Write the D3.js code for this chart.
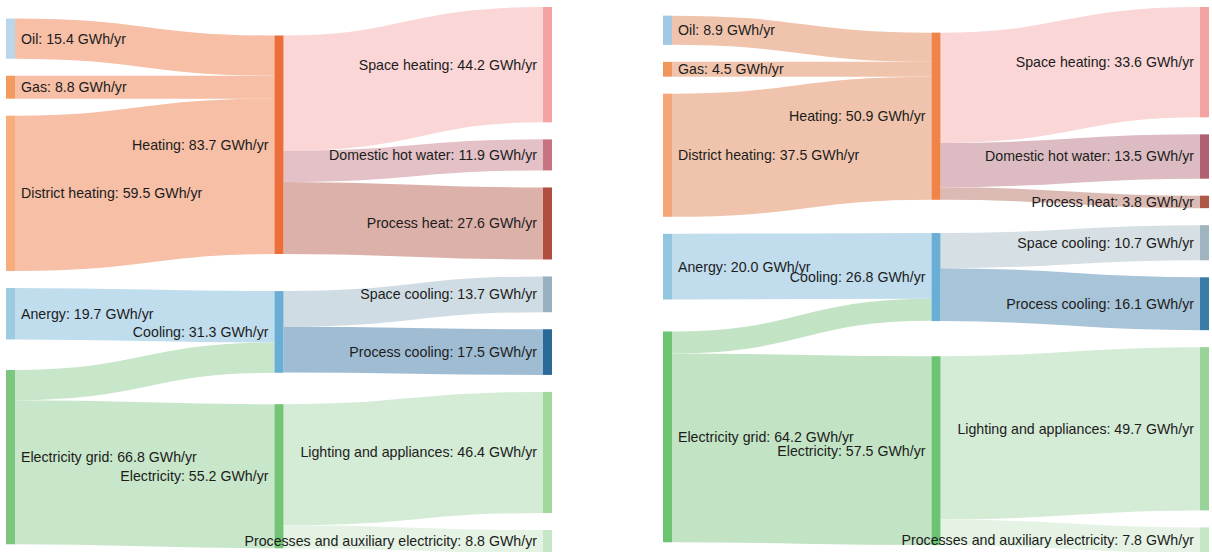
<!DOCTYPE html>
<html>
<head>
<meta charset="utf-8">
<script src="https://cdn.jsdelivr.net/npm/d3@7"></script>
<style>
html, body { margin: 0; padding: 0; background: #ffffff; }
svg { display: block; }
</style>
</head>
<body>
<svg id="chart" width="1212" height="552"></svg>
<script>
// ---------- DATA ----------
const nodeNames = ["Oil", "Gas", "District heating", "Anergy", "Electricity grid",
  "Heating", "Cooling", "Electricity",
  "Space heating", "Domestic hot water", "Process heat", "Space cooling",
  "Process cooling", "Lighting and appliances", "Processes and auxiliary electricity"];

const linkSources = ["Oil", "Gas", "District heating", "Anergy", "Electricity grid", "Electricity grid",
  "Heating", "Heating", "Heating", "Cooling", "Cooling", "Electricity", "Electricity"];
const linkTargets = ["Heating", "Heating", "Heating", "Cooling", "Cooling", "Electricity",
  "Space heating", "Domestic hot water", "Process heat", "Space cooling", "Process cooling",
  "Lighting and appliances", "Processes and auxiliary electricity"];

// GWh/yr, left chart
const valuesLeft = [15.4, 8.8, 59.5, 19.7, 11.6, 55.2, 44.2, 11.9, 27.6, 13.7, 17.5, 46.4, 8.8];
// GWh/yr, right chart
const valuesRight = [8.9, 4.5, 37.5, 20.0, 6.7, 57.5, 33.6, 13.5, 3.8, 10.7, 16.1, 49.7, 7.8];

const unitLabel = "GWh/yr";

// ---------- STYLES ----------
const nodeColorsLeft = ["#b9d6ea", "#f39a5e", "#f6ae7c", "#9dcbe2", "#7cc67f",
  "#ec6f3b", "#6aaed6", "#74c476",
  "#f4a3a5", "#c87380", "#b04e40", "#97b0c0", "#2a6a98", "#a1d99c", "#c6e7c5"];
const linkColorsLeft = ["#f6bfa6", "#f6bfa6", "#f6bfa6", "#c0ddee", "#c8e6c9", "#c8e6c9",
  "#fad6d6", "#e4c1c6", "#dcb1aa", "#d0dce3", "#a0bcd3", "#d4ebd6", "#e5f3e4"];

const nodeColorsRight = ["#a2c8e2", "#f0955b", "#f4a678", "#92c6de", "#6cc472",
  "#f08448", "#6aaed6", "#6cc472",
  "#f4a3a3", "#b06070", "#b05848", "#a0b4c0", "#3a7ca8", "#98d49a", "#c6e7c5"];
const linkColorsRight = ["#f0c4ac", "#f0c4ac", "#f0c4ac", "#c0dced", "#c2e4c4", "#c2e4c4",
  "#fad6d6", "#dcbcc2", "#dcbab4", "#d6dfe3", "#a8c4d8", "#d4ebd6", "#e5f3e4"];

// ---------- SANKEY LAYOUT (port of the d3-sankey relaxation) ----------
function sankey(names, src, tgt, val, ext, nodeWidth, dy, iterations) {
  const [[x0, y0], [x1, y1]] = ext;
  const nodes = names.map((name, index) => ({ name, index, sourceLinks: [], targetLinks: [] }));
  const byName = new Map(nodes.map(n => [n.name, n]));
  const links = src.map((s, i) => ({ source: byName.get(s), target: byName.get(tgt[i]), value: val[i], index: i }));
  for (const l of links) { l.source.sourceLinks.push(l); l.target.targetLinks.push(l); }
  for (const n of nodes) n.value = Math.max(d3.sum(n.sourceLinks, l => l.value), d3.sum(n.targetLinks, l => l.value));
  let current = new Set(nodes), next = new Set(), depth = 0;
  while (current.size) {
    for (const n of current) { n.depth = depth; for (const { target } of n.sourceLinks) next.add(target); }
    depth++; current = next; next = new Set();
  }
  const nLayers = depth;
  for (const n of nodes) n.layer = n.sourceLinks.length ? n.depth : nLayers - 1;
  const xScale = d3.scaleLinear().domain([0, nLayers - 1]).range([x0, x1 - nodeWidth]);
  const columns = Array.from({ length: nLayers }, () => []);
  for (const n of nodes) { n.x0 = xScale(n.layer); n.x1 = n.x0 + nodeWidth; columns[n.layer].push(n); }
  const py = Math.min(dy, (y1 - y0) / (d3.max(columns, c => c.length) - 1));
  const ascBreadth = (a, b) => a.y0 - b.y0;
  const ascSource = (a, b) => ascBreadth(a.source, b.source) || a.index - b.index;
  const ascTarget = (a, b) => ascBreadth(a.target, b.target) || a.index - b.index;
  function reorderNodeLinks({ sourceLinks, targetLinks }) {
    for (const { source: { sourceLinks: sl } } of targetLinks) sl.sort(ascTarget);
    for (const { target: { targetLinks: tl } } of sourceLinks) tl.sort(ascSource);
  }
  const kyVal = d3.min(columns, c => (y1 - y0 - (c.length - 1) * py) / d3.sum(c, n => n.value));
  const ky = d3.scaleLinear().domain([0, 1]).range([0, kyVal]);
  for (const col of columns) {
    let y = y0;
    for (const n of col) {
      n.y0 = y; n.y1 = y + ky(n.value); y = n.y1 + py;
      for (const l of n.sourceLinks) l.width = ky(l.value);
    }
    y = (y1 - y + py) / (col.length + 1);
    col.forEach((n, i) => { n.y0 += y * (i + 1); n.y1 += y * (i + 1); });
    for (const { sourceLinks, targetLinks } of col) { sourceLinks.sort(ascTarget); targetLinks.sort(ascSource); }
  }
  function targetTop(source, target) {
    let y = source.y0 - (source.sourceLinks.length - 1) * py / 2;
    for (const { target: node, width } of source.sourceLinks) { if (node === target) break; y += width + py; }
    for (const { source: node, width } of target.targetLinks) { if (node === source) break; y -= width; }
    return y;
  }
  function sourceTop(source, target) {
    let y = target.y0 - (target.targetLinks.length - 1) * py / 2;
    for (const { source: node, width } of target.targetLinks) { if (node === source) break; y += width + py; }
    for (const { target: node, width } of source.sourceLinks) { if (node === target) break; y -= width; }
    return y;
  }
  function collTopToBottom(col, y, i, alpha) {
    for (; i < col.length; ++i) { const n = col[i]; const d = (y - n.y0) * alpha; if (d > 1e-6) { n.y0 += d; n.y1 += d; } y = n.y1 + py; }
  }
  function collBottomToTop(col, y, i, alpha) {
    for (; i >= 0; --i) { const n = col[i]; const d = (n.y1 - y) * alpha; if (d > 1e-6) { n.y0 -= d; n.y1 -= d; } y = n.y0 - py; }
  }
  function resolveCollisions(col, alpha) {
    const i = col.length >> 1; const s = col[i];
    collBottomToTop(col, s.y0 - py, i - 1, alpha);
    collTopToBottom(col, s.y1 + py, i + 1, alpha);
    collBottomToTop(col, y1, col.length - 1, alpha);
    collTopToBottom(col, y0, 0, alpha);
  }
  function relaxLeftToRight(alpha, beta) {
    for (let i = 1; i < columns.length; ++i) {
      const col = columns[i];
      for (const target of col) {
        let y = 0, w = 0;
        for (const { source, value } of target.targetLinks) { const v = value * (target.layer - source.layer); y += targetTop(source, target) * v; w += v; }
        if (!(w > 0)) continue;
        const d = (y / w - target.y0) * alpha; target.y0 += d; target.y1 += d; reorderNodeLinks(target);
      }
      col.sort(ascBreadth); resolveCollisions(col, beta);
    }
  }
  function relaxRightToLeft(alpha, beta, firstOnly) {
    for (let i = columns.length - 2; i >= 0; --i) {
      if (firstOnly && i > 0) continue;
      const col = columns[i];
      for (const source of col) {
        let y = 0, w = 0;
        for (const { target, value } of source.sourceLinks) { const v = value * (target.layer - source.layer); y += sourceTop(source, target) * v; w += v; }
        if (!(w > 0)) continue;
        const d = (y / w - source.y0) * alpha; source.y0 += d; source.y1 += d; reorderNodeLinks(source);
      }
      col.sort(ascBreadth); resolveCollisions(col, beta);
    }
  }
  for (let i = 0; i < iterations; ++i) {
    const alpha = Math.pow(0.99, i);
    const beta = Math.max(1 - alpha, (i + 1) / iterations);
    relaxRightToLeft(alpha, beta);
    relaxLeftToRight(alpha, beta);
  }
  // final pass: align the source column with its targets
  relaxRightToLeft(1, 1, true);
  for (const n of nodes) { n.sourceLinks.sort(ascTarget); n.targetLinks.sort(ascSource); }
  for (const n of nodes) {
    let a = n.y0, b = n.y0;
    for (const l of n.sourceLinks) { l.y0 = a + l.width / 2; a += l.width; }
    for (const l of n.targetLinks) { l.y1 = b + l.width / 2; b += l.width; }
  }
  return { nodes, links };
}

// ---------- DRAW ----------
const svg = d3.select("#chart");
svg.append("rect").attr("width", 1212).attr("height", 552).attr("fill", "#ffffff");

const linkPath = d3.linkHorizontal()
  .source(d => [d.source.x1, d.y0])
  .target(d => [d.target.x0, d.y1]);

function drawChart(values, ext, nodeColors, linkColors) {
  const { nodes, links } = sankey(nodeNames, linkSources, linkTargets, values, ext, 9, 17, 6);
  const g = svg.append("g");
  g.append("g").attr("fill", "none")
    .selectAll("path").data(links).join("path")
    .attr("d", linkPath)
    .attr("stroke", d => linkColors[d.index])
    .attr("stroke-width", d => Math.max(1, d.width));
  g.append("g").selectAll("rect").data(nodes).join("rect")
    .attr("x", d => d.x0).attr("y", d => d.y0)
    .attr("width", d => d.x1 - d.x0).attr("height", d => d.y1 - d.y0)
    .attr("fill", d => nodeColors[d.index]);
  g.append("g")
    .attr("font-family", "'Liberation Sans', Arial, Helvetica, sans-serif")
    .attr("font-size", 14.2).attr("fill", "#1c1c1c")
    .selectAll("text").data(nodes).join("text")
    .attr("x", d => d.layer === 0 ? d.x1 + 6 : d.x0 - 6)
    .attr("y", d => (d.y0 + d.y1) / 2)
    .attr("dy", "0.35em")
    .attr("text-anchor", d => d.layer === 0 ? "start" : "end")
    .text(d => `${d.name}: ${d.value.toFixed(1)} ${unitLabel}`);
}

drawChart(valuesLeft, [[6, 7], [552, 553]], nodeColorsLeft, linkColorsLeft);
drawChart(valuesRight, [[663, 7], [1209, 553]], nodeColorsRight, linkColorsRight);
</script>
</body>
</html>
